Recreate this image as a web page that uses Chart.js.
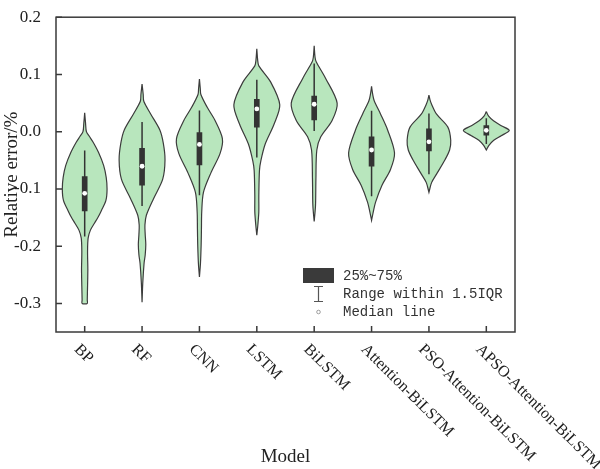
<!DOCTYPE html>
<html>
<head>
<meta charset="utf-8">
<script src="https://cdn.jsdelivr.net/npm/chart.js@4.4.1/dist/chart.umd.min.js"></script>
<style>
  html, body { margin: 0; padding: 0; background: #fff; }
  #wrap { width: 600px; height: 469px; }
</style>
</head>
<body>
<div id="wrap"><canvas id="myChart" width="600" height="469"></canvas></div>
<script>
// Violin plot of relative error per model
const models = ['BP', 'RF', 'CNN', 'LSTM', 'BiLSTM', 'Attention-BiLSTM', 'PSO-Attention-BiLSTM', 'APSO-Attention-BiLSTM'];
const yTicks = [-0.3, -0.2, -0.1, 0.0, 0.1, 0.2];

// density outline of each violin: error value and half width (in category units)
const bpY = [0.033, 0.015, 0.000, -0.008, -0.018, -0.036, -0.059, -0.080, -0.100, -0.120, -0.138, -0.150, -0.160, -0.172, -0.186, -0.210, -0.240, -0.270, -0.294, -0.300];
const bpW = [0, 0.015, 0.03, 0.08, 0.145, 0.24, 0.33, 0.375, 0.39, 0.37, 0.29, 0.23, 0.17, 0.10, 0.06, 0.05, 0.055, 0.05, 0.045, 0.045];
const rfY = [0.083, 0.065, 0.053, 0.031, 0.003, -0.020, -0.049, -0.083, -0.117, -0.146, -0.163, -0.180, -0.197, -0.215, -0.230, -0.265, -0.298];
const rfW = [0, 0.02, 0.03, 0.15, 0.31, 0.37, 0.40, 0.36, 0.20, 0.075, 0.05, 0.055, 0.065, 0.055, 0.035, 0.012, 0];
const cnnY = [0.092, 0.075, 0.065, 0.043, 0.020, -0.012, -0.038, -0.072, -0.106, -0.140, -0.170, -0.197, -0.230, -0.254];
const cnnW = [0, 0.015, 0.025, 0.133, 0.27, 0.40, 0.36, 0.20, 0.07, 0.04, 0.035, 0.03, 0.018, 0];
const lstmY = [0.145, 0.125, 0.115, 0.087, 0.047, 0.013, -0.022, -0.051, -0.068, -0.112, -0.140, -0.163, -0.181];
const lstmW = [0, 0.015, 0.035, 0.24, 0.40, 0.30, 0.145, 0.07, 0.046, 0.035, 0.035, 0.018, 0];
const bilstmY = [0.150, 0.130, 0.122, 0.093, 0.050, 0.019, -0.009, -0.032, -0.083, -0.129, -0.157];
const bilstmW = [0, 0.015, 0.035, 0.20, 0.40, 0.31, 0.115, 0.046, 0.03, 0.023, 0];
const attY = [0.079, 0.065, 0.054, 0.031, 0.003, -0.037, -0.066, -0.094, -0.123, -0.140, -0.155];
const attW = [0, 0.02, 0.046, 0.156, 0.28, 0.40, 0.33, 0.18, 0.07, 0.03, 0];
const psoY = [0.064, 0.055, 0.048, 0.031, 0.008, -0.015, -0.032, -0.049, -0.072, -0.089, -0.106];
const psoW = [0, 0.02, 0.046, 0.13, 0.33, 0.38, 0.36, 0.28, 0.145, 0.046, 0];
const apsoY = [0.035, 0.027, 0.019, 0.010, 0.002, -0.007, -0.015, -0.024, -0.032];
const apsoW = [0, 0.04, 0.125, 0.27, 0.40, 0.26, 0.13, 0.046, 0];

// box statistics
const q1 = [-0.1385, -0.0935, -0.058, 0.008, 0.0205, -0.0604, -0.0337, -0.0063];
const q3 = [-0.0786, -0.029, -0.0017, 0.0564, 0.062, -0.009, 0.0051, 0.0108];
const medians = [-0.1077, -0.0604, -0.0222, 0.0398, 0.0479, -0.032, -0.0177, 0.0023];
const whiskerLow = [-0.183, -0.130, -0.111, -0.045, 0.001, -0.1128, -0.0746, -0.0217];
const whiskerHigh = [-0.033, 0.017, 0.037, 0.0906, 0.119, 0.0365, 0.0316, 0.0234];

const shapes = [[bpY, bpW], [rfY, rfW], [cnnY, cnnW], [lstmY, lstmW], [bilstmY, bilstmW], [attY, attW], [psoY, psoW], [apsoY, apsoW]];

const serif = "'Liberation Serif', 'Times New Roman', serif";

// closed outline: right side going down, left side coming back up
function outline(ys, ws, c) {
  const pts = [];
  ys.forEach((v, k) => pts.push({x: c + ws[k], y: v}));
  for (let k = ys.length - 1; k >= 0; k--) pts.push({x: c - ws[k], y: ys[k]});
  return pts;
}

const violinSets = shapes.map(([ys, ws], i) => ({
  type: 'scatter',
  data: outline(ys, ws, i + 1),
  showLine: true,
  fill: 'shape',
  backgroundColor: '#b8e6bd',
  borderColor: '#3c3c3c',
  borderWidth: 1.2,
  pointRadius: 0,
  tension: 0.3,
  order: 4
}));

const whiskerData = [];
models.forEach((m, i) => {
  whiskerData.push({x: i + 1, y: whiskerLow[i]}, {x: i + 1, y: whiskerHigh[i]}, {x: i + 1.5, y: null});
});

const frame = {
  id: 'frame',
  afterDraw(chart) {
    const {ctx, chartArea: a, scales: {x, y}} = chart;
    ctx.save();
    ctx.strokeStyle = '#3a3a3a';
    ctx.lineWidth = 1.5;
    ctx.strokeRect(a.left, a.top, a.right - a.left, a.bottom - a.top);
    ctx.beginPath();
    yTicks.forEach(v => {
      const py = y.getPixelForValue(v);
      ctx.moveTo(a.left, py); ctx.lineTo(a.left + 6, py);
    });
    models.forEach((m, i) => {
      const px = x.getPixelForValue(i + 1);
      ctx.moveTo(px, a.bottom); ctx.lineTo(px, a.bottom - 6);
    });
    ctx.stroke();

    // category labels, turned down to the right
    ctx.fillStyle = '#222';
    ctx.font = '16px ' + serif;
    ctx.textAlign = 'left';
    ctx.textBaseline = 'middle';
    models.forEach((m, i) => {
      const px = x.getPixelForValue(i + 1);
      ctx.save();
      ctx.translate(px - 8, a.bottom + 15);
      ctx.rotate(Math.PI / 4);
      ctx.fillText(m, 0, 0);
      ctx.restore();
    });

    // legend
    ctx.fillStyle = '#3a3a3a';
    ctx.fillRect(303, 268, 31, 15);
    ctx.strokeStyle = '#555';
    ctx.lineWidth = 1.2;
    ctx.beginPath();
    ctx.moveTo(314, 286.5); ctx.lineTo(323, 286.5);
    ctx.moveTo(318.5, 286.5); ctx.lineTo(318.5, 301.5);
    ctx.moveTo(314, 301.5); ctx.lineTo(323, 301.5);
    ctx.stroke();
    ctx.lineWidth = 0.8;
    ctx.strokeStyle = '#888';
    ctx.beginPath();
    ctx.arc(318.5, 312, 1.8, 0, Math.PI * 2);
    ctx.stroke();
    ctx.fillStyle = '#333';
    ctx.font = "14px 'Liberation Mono', monospace";
    ctx.fillText('25%~75%', 343, 276);
    ctx.fillText('Range within 1.5IQR', 343, 294);
    ctx.fillText('Median line', 343, 312);
    ctx.restore();
  }
};

const ctx = document.getElementById('myChart');

new Chart(ctx, {
  type: 'scatter',
  data: {
    datasets: [
      {
        type: 'scatter',
        data: models.map((m, i) => ({x: i + 1, y: medians[i]})),
        pointRadius: 2.4,
        pointBackgroundColor: '#fff',
        pointBorderWidth: 0,
        order: 1
      },
      {
        type: 'bar',
        data: models.map((m, i) => ({x: i + 1, y: [q1[i], q3[i]]})),
        backgroundColor: '#333',
        barThickness: 5,
        grouped: false,
        order: 2
      },
      {
        type: 'scatter',
        data: whiskerData,
        showLine: true,
        spanGaps: false,
        borderColor: '#333',
        borderWidth: 1.5,
        pointRadius: 0,
        order: 3
      },
      ...violinSets
    ]
  },
  options: {
    responsive: false,
    animation: false,
    layout: { padding: { top: 11, right: 85, left: 0, bottom: 0 } },
    plugins: { legend: { display: false }, tooltip: { enabled: false } },
    scales: {
      x: {
        type: 'linear',
        min: 0.5,
        max: 8.5,
        offset: false,
        afterBuildTicks: s => { s.ticks = models.map((m, i) => ({value: i + 1})); },
        ticks: { display: false },
        grid: { display: false, offset: false },
        border: { display: false },
        title: { display: true, text: 'Model', color: '#222', font: { family: serif, size: 19 }, padding: { top: 0, bottom: 1 } },
        afterFit: s => { s.height = 137; }
      },
      y: {
        type: 'linear',
        min: -0.35,
        max: 0.2,
        afterBuildTicks: s => { s.ticks = yTicks.map(v => ({value: v})); },
        ticks: { callback: v => v.toFixed(1), color: '#222', font: { family: serif, size: 17 }, padding: 7 },
        grid: { display: false },
        border: { display: false },
        title: { display: true, text: 'Relative error/%', color: '#222', font: { family: serif, size: 19 }, padding: { top: 1, bottom: 0 } },
        afterFit: s => { s.width = 56; }
      }
    }
  },
  plugins: [frame]
});
</script>
</body>
</html>
